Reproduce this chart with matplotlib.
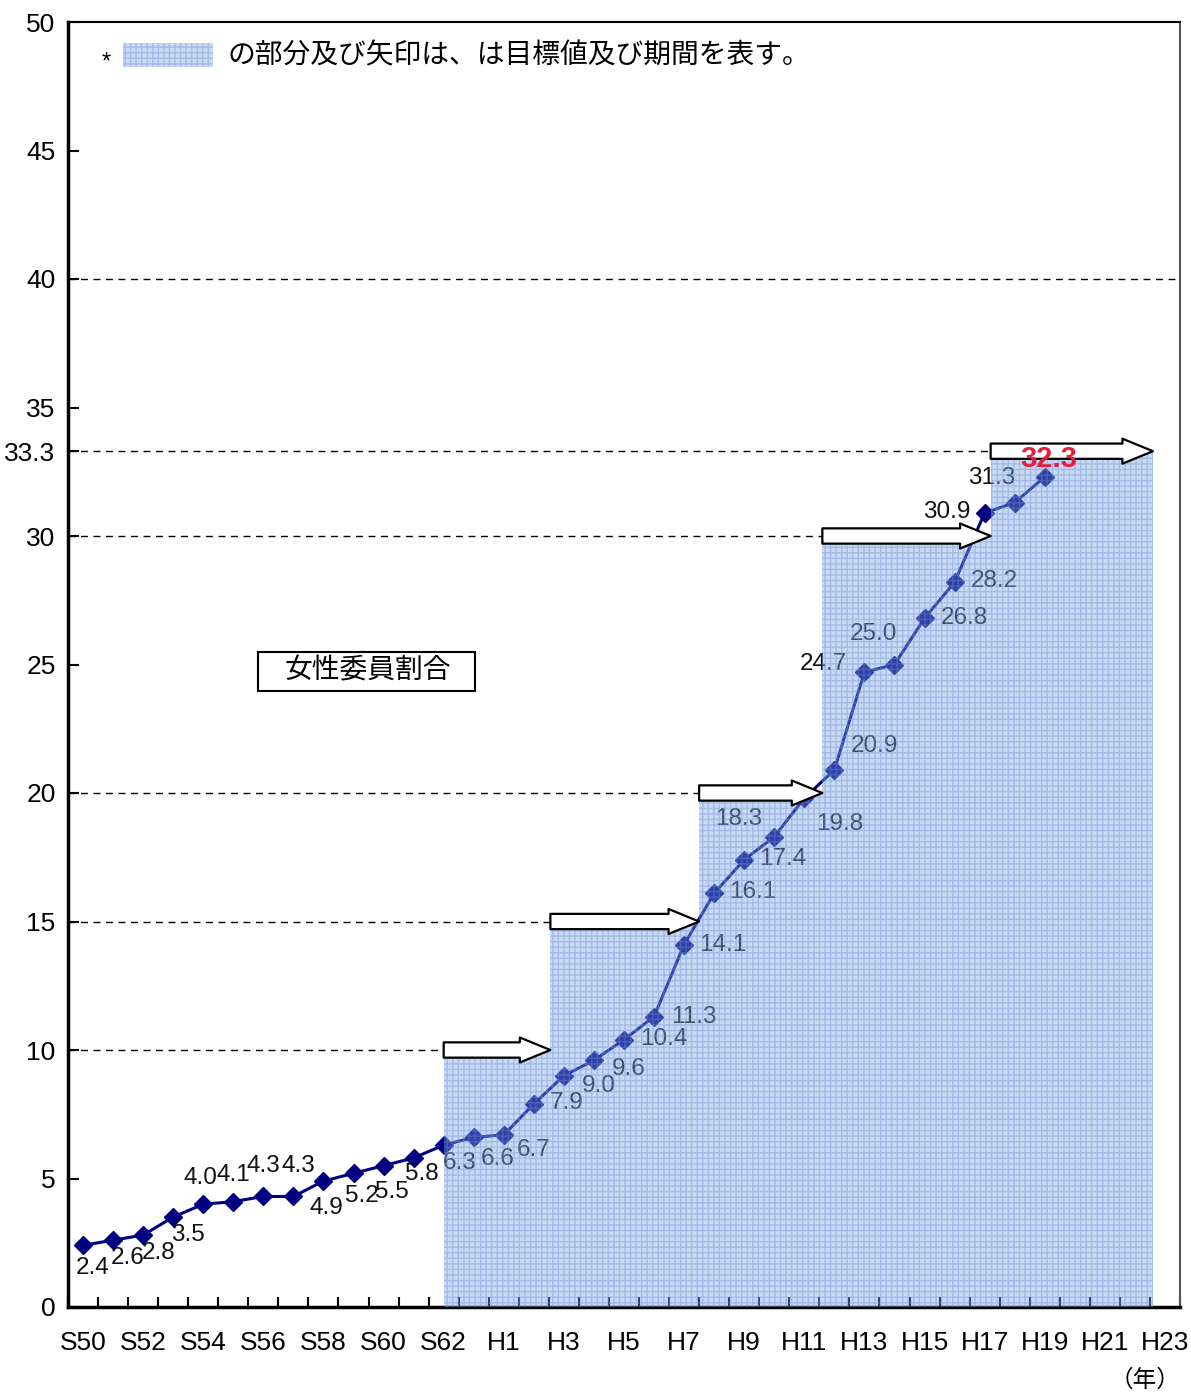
import matplotlib.pyplot as plt
from matplotlib.patches import Rectangle
import numpy as np

# data
years = ['S50', 'S51', 'S52', 'S53', 'S54', 'S55', 'S56', 'S57', 'S58', 'S59',
         'S60', 'S61', 'S62', 'S63', 'H1', 'H2', 'H3', 'H4', 'H5', 'H6', 'H7',
         'H8', 'H9', 'H10', 'H11', 'H12', 'H13', 'H14', 'H15', 'H16', 'H17',
         'H18', 'H19', 'H20', 'H21', 'H22', 'H23']
ratio = [2.4, 2.6, 2.8, 3.5, 4.0, 4.1, 4.3, 4.3, 4.9, 5.2, 5.5, 5.8, 6.3, 6.6,
         6.7, 7.9, 9.0, 9.6, 10.4, 11.3, 14.1, 16.1, 17.4, 18.3, 19.8, 20.9,
         24.7, 25.0, 26.8, 28.2, 30.9, 31.3, 32.3]
target_start = [12, 15.55, 20.5, 24.6, 30.2]
target_end = [15.55, 20.5, 24.6, 30.2, 35.6]
target_value = [10, 15, 20, 30, 33.3]

# label offsets (px), one per point
offsets = [(10, -23), (15, -18), (15, -18), (15, -18), (-3, 26), (0, 27),
           (0, 30), (5, 30), (3, -27), (8, -23), (8, -26), (8, -16),
           (16, -18), (24, -22), (30, -15), (33, 1), (35, -10), (35, -9),
           (40, 1), (40, 0), (39, 0), (39, 1), (39, 1), (-36, 18), (35, -26),
           (40, 24), (-41, 8), (-21, 30), (40, 0), (40, 1), (-38, 1),
           (-23, 25), (4, 18)]

plt.rcParams['font.family'] = ['Liberation Sans', 'Noto Sans CJK JP', 'DejaVu Sans']
jp = ['Noto Sans CJK JP', 'DejaVu Sans']

fig = plt.figure(figsize=(11.91, 13.93), dpi=100)
ax = fig.add_axes([68 / 1191, 86 / 1393, 1112 / 1191, 1285 / 1393])

x = np.arange(len(ratio))
ax.plot(x, ratio, color='#000080', lw=2.2, marker='D', ms=9, zorder=2)

# target areas (drawn over the line, semi-transparent) with arrows
shade_kw = dict(facecolor='#7ba2e2', edgecolor='#6a90d6', alpha=0.4,
                hatch='+++', lw=0, zorder=5)
for s, e, v in zip(target_start, target_end, target_value):
    ax.add_patch(Rectangle((s, 0), e - s, v, **shade_kw))
    ax.plot([-0.5, s], [v, v], color='black', lw=1, ls=(0, (5, 4)), zorder=1)
    ax.annotate('', xy=(e, v), xytext=(s, v), zorder=7,
                arrowprops=dict(arrowstyle='simple,head_length=1.1,head_width=0.9,tail_width=0.55',
                                fc='white', ec='black', lw=1.6, shrinkA=0, shrinkB=0,
                                mutation_scale=20))
ax.plot([-0.5, 36.5], [40, 40], color='black', lw=1, ls=(0, (5, 4)), zorder=1)

for i, (v, (dx, dy)) in enumerate(zip(ratio, offsets)):
    last = i == len(ratio) - 1
    ax.annotate(f'{v:.1f}', (i, v), xytext=(dx * 0.72, dy * 0.72),
                textcoords='offset points', ha='center', va='center',
                fontsize=21 if last else 17.5,
                fontweight='bold' if last else 'normal',
                color='#e0203c' if last else '#111111',
                zorder=8 if last else 4)

ax.set_xlim(-0.5, 36.5)
ax.set_ylim(0, 50)
ax.set_xticks(np.arange(0, 37, 2))
ax.set_xticklabels(years[::2], fontsize=19)
ax.set_xticks(np.arange(-0.5, 36.6, 1), minor=True)
ax.tick_params(axis='x', which='major', length=0, pad=17)
ax.tick_params(axis='x', which='minor', direction='in', length=7, width=1.5)
ax.set_yticks(list(range(0, 51, 5)) + [33.3])
ax.set_yticklabels([str(t) for t in range(0, 51, 5)] + ['33.3'], fontsize=19)
ax.tick_params(axis='y', direction='in', length=8, width=1.5, pad=9)

for side in ['left', 'bottom']:
    ax.spines[side].set_linewidth(2.5)
ax.spines['top'].set_linewidth(1.5)
ax.spines['right'].set_linewidth(1.5)
ax.spines['right'].set_color('#555555')

# legend note at the top
ax.text(0.03, 0.977, '*', transform=ax.transAxes, fontsize=17, va='top', ha='left')
ax.add_patch(Rectangle((55 / 1112, 1240 / 1285), 90 / 1112, 24 / 1285,
                       transform=ax.transAxes, **shade_kw))
ax.text(160 / 1112, 1252 / 1285, 'の部分及び矢印は、は目標値及び期間を表す。',
        transform=ax.transAxes, fontsize=20, va='center', ha='left', family=jp)

ax.add_patch(Rectangle((190 / 1112, 616 / 1285), 217 / 1112, 39 / 1285,
                       transform=ax.transAxes, fc='white', ec='black', lw=1.5,
                       zorder=3))
ax.text(300 / 1112, 637 / 1285, '女性委員割合', transform=ax.transAxes,
        fontsize=20, va='center', ha='center', family=jp, zorder=4)

fig.text(1145 / 1191, 1 - 1380 / 1393, '（年）', fontsize=17, ha='center',
         va='center', family=jp)

fig.savefig('out.png', dpi=100)
